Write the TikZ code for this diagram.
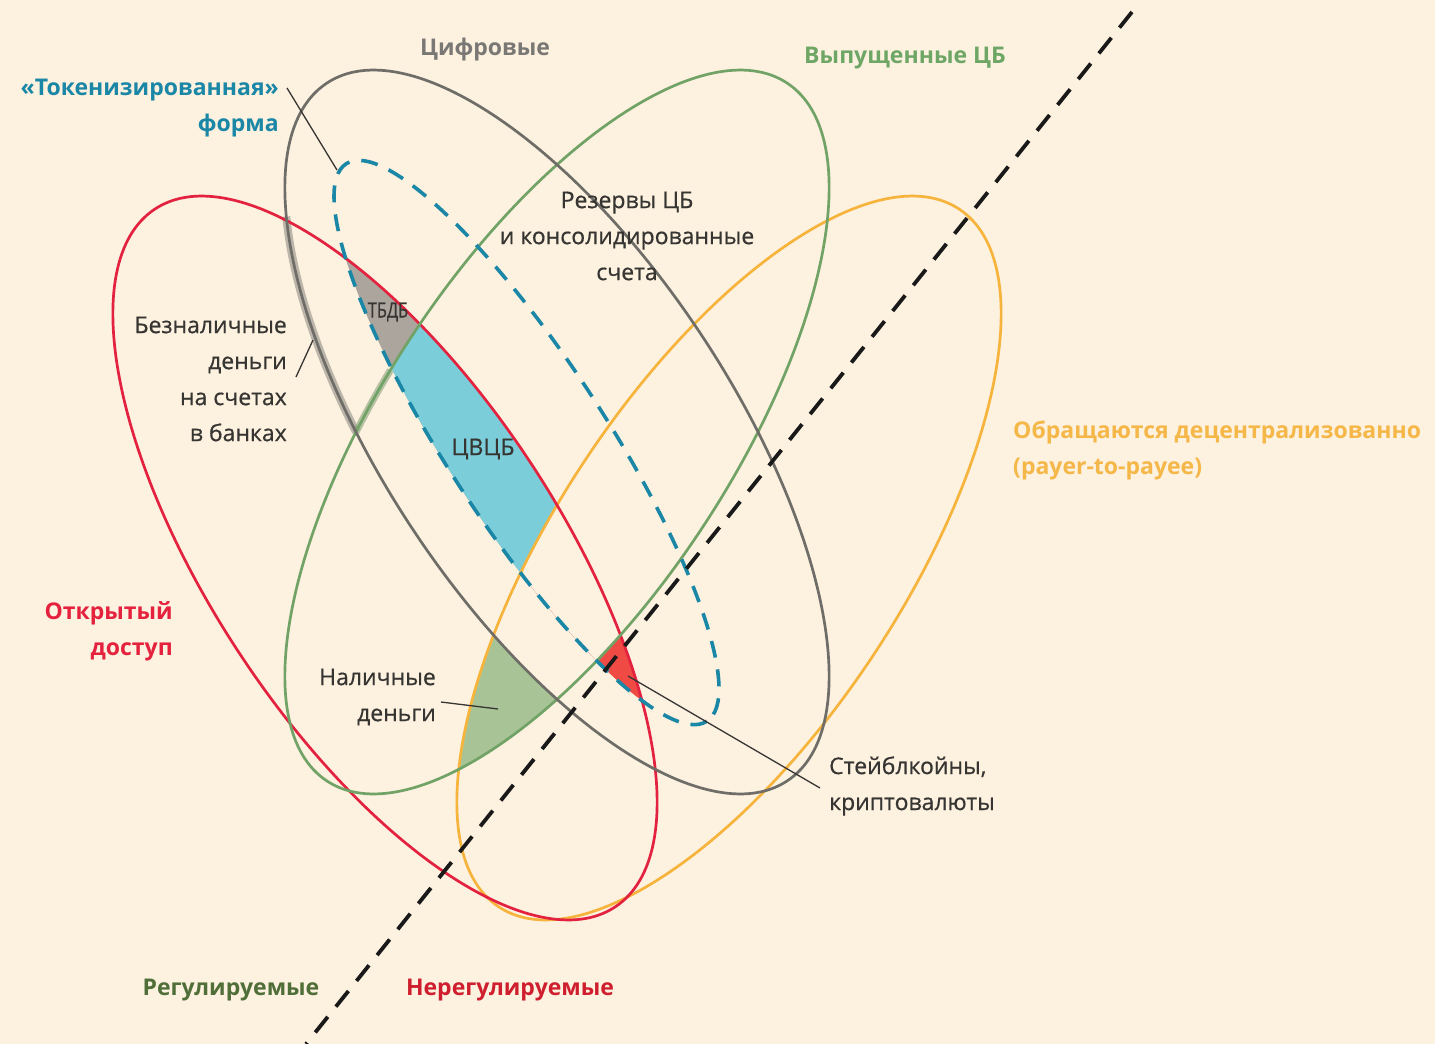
\documentclass[tikz,border=0pt]{standalone}
\usepackage{fontspec}
\setmainfont{Open Sans}
\newfontfamily\bodyfnt{Open Sans}[FakeBold=0.6]
\definecolor{bg}{HTML}{FDF1E0}
\definecolor{cred}{HTML}{E3223F}
\definecolor{cgreen}{HTML}{72A366}
\definecolor{cgrey}{HTML}{6E6D68}
\definecolor{cyellow}{HTML}{F6B43C}
\definecolor{cteal}{HTML}{1B87A6}
\definecolor{fblue}{HTML}{7BCDD9}
\definecolor{fgrey}{HTML}{ACA59D}
\definecolor{fgreen}{HTML}{A8C496}
\definecolor{fred}{HTML}{F04A45}
\definecolor{txt}{HTML}{363532}
\definecolor{tgrey}{HTML}{7A7874}
\definecolor{tgreen}{HTML}{6EA765}
\definecolor{tyellow}{HTML}{F5B748}
\definecolor{tred}{HTML}{E5223E}
\definecolor{tdgreen}{HTML}{4F6E38}
\definecolor{tdred}{HTML}{CF1F2E}
\newcommand\ClipRd{\clip[rotate around={-56.6:(385,558)}] (385,558) ellipse [x radius=418, y radius=174];}
\newcommand\ClipYl{\clip[rotate around={56.6:(729,558)}] (729,558) ellipse [x radius=418, y radius=174];}
\newcommand\ClipGy{\clip[rotate around={-56.6:(557,432)}] (557,432) ellipse [x radius=418, y radius=174];}
\newcommand\ClipGn{\clip[rotate around={56.6:(557,432)}] (557,432) ellipse [x radius=418, y radius=174];}
\newcommand\ClipDs{\clip[rotate around={-57.1:(526.5,442.5)}] (526.5,442.5) ellipse [x radius=332, y radius=80];}
\newcommand\FillAll[1]{\fill[#1] (0,0) rectangle (1435,1044);}
\tikzset{
  ring/.style={line width=2.7pt},
  body/.style={font=\bodyfnt\fontsize{23}{36}\selectfont, text=txt, inner sep=0pt},
  lbl/.style={font=\fontsize{23}{36}\selectfont\bfseries, inner sep=0pt},
  leader/.style={draw=txt, line width=1.3pt},
}
\begin{document}
\begin{tikzpicture}[x=1pt,y=-1pt]
\useasboundingbox (0,0) rectangle (1435,1044);
\FillAll{bg}
% --- cash (green fill) ---
\begin{scope}
  \ClipGn \ClipYl \ClipRd
  \FillAll{fgreen}
  \begin{scope}\ClipGy \FillAll{bg}\end{scope}
\end{scope}
% --- tokenised fills ---
\begin{scope}
  \ClipDs \ClipRd
  \FillAll{fgrey}
  \begin{scope}\ClipGn \FillAll{fblue}\end{scope}
  \begin{scope}\ClipYl \FillAll{fred}
    \begin{scope}\ClipGn \FillAll{bg}\end{scope}
  \end{scope}
\end{scope}
% --- bands (bank money) ---
\begin{scope}[shift={(557,432)}, rotate=-56.6]
  \draw[cgrey, line width=8pt, opacity=0.45] (141.9:418 and 174) arc [start angle=141.9, end angle=105.35, x radius=418, y radius=174];
\end{scope}
\begin{scope}[shift={(557,432)}, rotate=56.6]
  \draw[cgreen!70!cgrey, line width=7pt, opacity=0.5] (-105.35:418 and 174) arc [start angle=-105.35, end angle=-95.5, x radius=418, y radius=174];
\end{scope}
% --- ellipses ---
\draw[ring, cyellow, rotate around={56.6:(729,558)}] (729,558) ellipse [x radius=418, y radius=174];
\draw[ring, cred, rotate around={-56.6:(385,558)}] (385,558) ellipse [x radius=418, y radius=174];
\draw[ring, cgreen, rotate around={56.6:(557,432)}] (557,432) ellipse [x radius=418, y radius=174];
\draw[ring, cgrey, rotate around={-56.6:(557,432)}] (557,432) ellipse [x radius=418, y radius=174];
\draw[cteal, line width=3.6pt, dash pattern=on 17pt off 12pt, rotate around={-57.1:(526.5,442.5)}] (526.5,442.5) ellipse [x radius=332, y radius=80];
% --- divider ---
\coordinate (divTop) at (1132,12);
\coordinate (divBot) at (306,1044);
\draw[black!90, line width=3.8pt, dash pattern=on 20pt off 13pt] (divTop) -- (divBot);
% --- labels ---
\node[lbl, text=tgrey] (digital) at (485,50) {Цифровые};
\node[lbl, text=cteal, align=right, anchor=east] (token) at (279,108) {«Токенизированная»\\форма};
\node[lbl, text=tgreen] (issued) at (905,58) {Выпущенные ЦБ};
\node[body, align=center] (reserves) at (627,236) {Резервы ЦБ\\и консолидированные\\счета};
\node[body, align=right, anchor=east] (bank) at (287,379) {Безналичные\\деньги\\на счетах\\в банках};
\node[body, font=\bodyfnt\fontsize{21}{24}\selectfont] (tbdb) at (388,312) {\scalebox{0.78}[1]{ТБДБ}};
\node[body] (cbdc) at (483,449) {ЦВЦБ};
\node[lbl, text=tred, align=right, anchor=east] (open) at (173,631) {Открытый\\доступ};
\node[body, align=right, anchor=east] (cash) at (436,697) {Наличные\\деньги};
\node[lbl, text=tyellow, align=left, anchor=west] (decent) at (1013,450) {Обращаются децентрализованно\\(payer-to-payee)};
\node[body, align=left, anchor=west] (stable) at (829,786) {Стейблкойны,\\криптовалюты};
\node[lbl, text=tdgreen] (reg) at (231,990) {Регулируемые};
\node[lbl, text=tdred] (unreg) at (510,990) {Нерегулируемые};
% --- leaders ---
\coordinate (tokA) at (287,88);
\coordinate (tokB) at (337,170);
\coordinate (bankA) at (296,377);
\coordinate (bankB) at (313,340);
\coordinate (cashA) at (441,702);
\coordinate (cashB) at (498,709);
\coordinate (stabA) at (628,676);
\coordinate (stabB) at (820,788);
\draw[leader] (tokA) -- (tokB);
\draw[leader] (bankA) -- (bankB);
\draw[leader] (cashA) -- (cashB);
\draw[leader] (stabA) -- (stabB);
\end{tikzpicture}
\end{document}
